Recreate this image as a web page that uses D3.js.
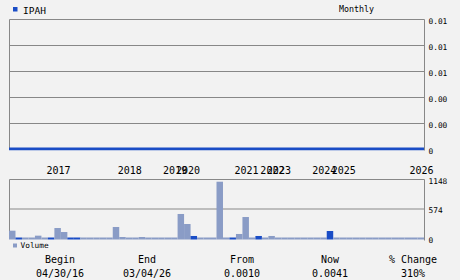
<!DOCTYPE html>
<html>
<head>
<meta charset="utf-8">
<script src="https://cdn.jsdelivr.net/npm/d3@7"></script>
<style>
  body { margin: 0; background: #f2f2f2; }
  svg { display: block; }
  text { font-family: "DejaVu Sans Mono", monospace; fill: #000; }
</style>
</head>
<body>
<div id="chart"></div>
<script>
// one entry per monthly bar (only months that traded)
const months = [
  "2016-04","2016-05","2016-06","2016-07","2016-08","2016-10","2016-11",
  "2017-01","2017-02","2017-03","2017-04","2017-05","2017-06","2017-07","2017-08","2017-09","2017-10","2017-12",
  "2018-01","2018-02","2018-03","2018-05","2018-07","2018-09","2018-11",
  "2019-03","2019-10",
  "2020-01","2020-02","2020-03","2020-04","2020-06","2020-07","2020-08","2020-10","2020-12",
  "2021-01","2021-02","2021-05","2021-08",
  "2022-06",
  "2023-01","2023-02","2023-04","2023-05","2023-07","2023-09","2023-11",
  "2024-01","2024-03","2024-08",
  "2025-01","2025-02","2025-03","2025-04","2025-05","2025-06","2025-07","2025-08","2025-09","2025-10","2025-11","2025-12",
  "2026-03"
];

const volumes = [
  152, 12, 15, 15, 55, 15, 12,
  204, 126, 12, 12, 15, 8, 15, 8, 15, 224, 29,
  15, 8, 29, 8, 3, 15, 15,
  15, 477,
  282, 49, 15, 15, 15, 1105, 15, 8, 88,
  418, 15, 49, 10,
  49,
  15, 15, 15, 8, 15, 15, 15,
  8, 146, 8,
  8, 3, 8, 8, 8, 15, 8, 8, 8, 8, 15, 8,
  8
];

// months drawn in the darker colour
const markedMonths = ["2016-05","2016-11","2017-03","2017-04","2020-02","2020-10","2021-05","2024-03"];

// monthly close, sits on the floor of the price panel
const prices = [
  0.00005,0.00005,0.00005,0.00005,0.00005,0.00005,0.00005,
  0.00005,0.00005,0.00005,0.00005,0.00005,0.00005,0.00005,0.00005,0.00005,0.00005,0.00005,
  0.00005,0.00005,0.00005,0.00005,0.00005,0.00005,0.00005,
  0.00005,0.00005,
  0.00005,0.00005,0.00005,0.00005,0.00005,0.00005,0.00005,0.00005,0.00005,
  0.00005,0.00005,0.00005,0.00005,
  0.00005,
  0.00005,0.00005,0.00005,0.00005,0.00005,0.00005,0.00005,
  0.00005,0.00005,0.00005,
  0.00005,0.00005,0.00005,0.00005,0.00005,0.00005,0.00005,0.00005,0.00005,0.00005,0.00005,0.00005,
  0.00005
];

const priceTicks = [0, 0.002, 0.004, 0.006, 0.008, 0.01];
const volumeTicks = [0, 574, 1148];

const summaryHeads = ["Begin", "End", "From", "Now", "% Change"];
const summaryValues = ["04/30/16", "03/04/26", "0.0010", "0.0041", "310%"];

const ticker = "IPAH";
const period = "Monthly";

// layout
const width = 460;
const height = 280;
const plotLeft = 9.5;
const plotRight = 424.5;
const priceTop = 19.5;
const priceBottom = 149.5;
const volTop = 179.5;
const volBottom = 238.5;

const gridColor = "#888";
const darkBlue = "#1a4dc6";
const lightBlue = "#8a9cc6";

const data = months.map((m, i) => ({ month: m, vol: volumes[i], price: prices[i] }));

const x = d3.scaleBand()
  .domain(months)
  .range([plotLeft - 0.5, plotRight - 0.5])
  .padding(0);

const yPrice = d3.scaleLinear()
  .domain([0, 0.01])
  .range([priceBottom, priceTop]);

const yVol = d3.scaleLinear()
  .domain([0, 1148])
  .range([volBottom, volTop]);

const svg = d3.create("svg")
  .attr("width", width)
  .attr("height", height);

svg.append("rect")
  .attr("width", width)
  .attr("height", height)
  .attr("fill", "#f2f2f2");

// header
svg.append("rect")
  .attr("x", 13).attr("y", 7)
  .attr("width", 4.5).attr("height", 4.5)
  .attr("fill", darkBlue);
svg.append("text")
  .attr("x", 23).attr("y", 13.5)
  .style("font-size", "9.5px")
  .text(ticker);
svg.append("text")
  .attr("x", 339).attr("y", 12)
  .style("font-size", "8.3px")
  .text(period);

// price panel grid
svg.append("g")
  .selectAll("line")
  .data(priceTicks.slice(1))
  .join("line")
    .attr("x1", plotLeft).attr("x2", plotRight)
    .attr("y1", d => yPrice(d)).attr("y2", d => yPrice(d))
    .attr("stroke", gridColor);

svg.append("line")
  .attr("x1", plotLeft).attr("x2", plotLeft)
  .attr("y1", priceTop).attr("y2", priceBottom)
  .attr("stroke", gridColor);
svg.append("line")
  .attr("x1", plotRight).attr("x2", plotRight)
  .attr("y1", priceTop).attr("y2", priceBottom + 1)
  .attr("stroke", gridColor);

// price axis labels on the right
svg.append("g")
  .selectAll("text")
  .data(priceTicks)
  .join("text")
    .attr("x", 428.5)
    .attr("y", d => yPrice(d) + 4)
    .style("font-size", "7.8px")
    .text(d => d === 0 ? "0" : d3.format(".2f")(d));

// price line, run to the right edge of the last bar
const lastMonth = months[months.length - 1];
const linePoints = data.map(d => [x(d.month), yPrice(d.price)]);
linePoints.push([x(lastMonth) + x.bandwidth(), yPrice(prices[prices.length - 1])]);

svg.append("path")
  .attr("fill", "none")
  .attr("stroke", darkBlue)
  .attr("stroke-width", 2.6)
  .attr("d", d3.line()(linePoints));

// year labels at the first bar of each year (the starting year is not labelled)
const firstOfYear = d3.rollups(months, v => v[0], m => m.slice(0, 4)).slice(1);
svg.append("g")
  .selectAll("text")
  .data(firstOfYear)
  .join("text")
    .attr("x", d => x(d[1]) + x.bandwidth() / 2 + 0.8)
    .attr("y", 174)
    .attr("text-anchor", "middle")
    .style("font-size", "10px")
    .text(d => d[0]);

// volume panel grid
svg.append("g")
  .selectAll("line")
  .data(volumeTicks.slice(1))
  .join("line")
    .attr("x1", plotLeft).attr("x2", plotRight)
    .attr("y1", d => yVol(d)).attr("y2", d => yVol(d))
    .attr("stroke", gridColor);

svg.append("line")
  .attr("x1", plotLeft).attr("x2", plotLeft)
  .attr("y1", volTop).attr("y2", volBottom)
  .attr("stroke", gridColor);
svg.append("line")
  .attr("x1", plotRight).attr("x2", plotRight)
  .attr("y1", volTop).attr("y2", volBottom + 2)
  .attr("stroke", gridColor);

// volume bars
svg.append("g")
  .selectAll("rect")
  .data(data)
  .join("rect")
    .attr("x", d => x(d.month))
    .attr("width", x.bandwidth())
    .attr("y", d => Math.min(yVol(d.vol), volBottom - 1))
    .attr("height", d => volBottom + 1 - Math.min(yVol(d.vol), volBottom - 1))
    .attr("fill", d => markedMonths.includes(d.month) ? darkBlue : lightBlue);

svg.append("g")
  .selectAll("text")
  .data(volumeTicks)
  .join("text")
    .attr("x", 428.5)
    .attr("y", d => yVol(d) + 4)
    .style("font-size", "7.8px")
    .text(d => d);

// volume legend
svg.append("rect")
  .attr("x", 13).attr("y", 243.5)
  .attr("width", 4).attr("height", 4)
  .attr("fill", lightBlue);
svg.append("text")
  .attr("x", 20.5).attr("y", 248)
  .style("font-size", "7.8px")
  .text("Volume");

// summary row
const colX = [60, 147, 242, 330, 413];
svg.append("g")
  .selectAll("text")
  .data(summaryHeads)
  .join("text")
    .attr("x", (d, i) => colX[i])
    .attr("y", 263)
    .attr("text-anchor", "middle")
    .style("font-size", "10px")
    .text(d => d);
svg.append("g")
  .selectAll("text")
  .data(summaryValues)
  .join("text")
    .attr("x", (d, i) => colX[i])
    .attr("y", 277)
    .attr("text-anchor", "middle")
    .style("font-size", "10px")
    .text(d => d);

document.getElementById("chart").append(svg.node());
</script>
</body>
</html>
